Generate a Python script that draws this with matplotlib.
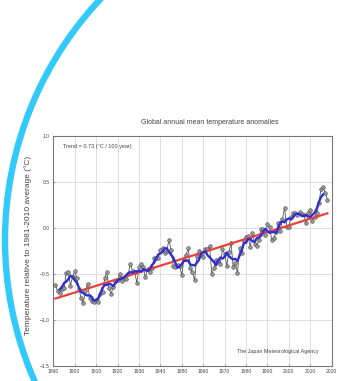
import matplotlib
matplotlib.use("Agg")
import matplotlib.pyplot as plt
from matplotlib.patches import Circle

plt.rcParams['font.family'] = ['Liberation Sans', 'DejaVu Sans']

# ---- data ----
years = list(range(1891, 2019))
anomalies = [
    -0.62, -0.69, -0.71, -0.67, -0.66, -0.49, -0.48, -0.63, -0.53, -0.47,  # 1891-1900
    -0.55, -0.67, -0.76, -0.82, -0.69, -0.61, -0.76, -0.80, -0.81, -0.79,  # 1901-1910
    -0.81, -0.72, -0.70, -0.55, -0.48, -0.66, -0.72, -0.64, -0.58, -0.57,  # 1911-1920
    -0.50, -0.58, -0.55, -0.56, -0.50, -0.39, -0.47, -0.48, -0.60, -0.43,  # 1921-1930
    -0.39, -0.43, -0.54, -0.45, -0.48, -0.44, -0.33, -0.33, -0.33, -0.24,  # 1931-1940
    -0.22, -0.27, -0.25, -0.13, -0.24, -0.41, -0.43, -0.40, -0.42, -0.51,  # 1941-1950
    -0.34, -0.29, -0.22, -0.44, -0.48, -0.57, -0.31, -0.25, -0.29, -0.32,  # 1951-1960
    -0.23, -0.23, -0.20, -0.50, -0.44, -0.35, -0.36, -0.39, -0.23, -0.28,  # 1961-1970
    -0.41, -0.26, -0.16, -0.43, -0.38, -0.49, -0.22, -0.27, -0.14, -0.10,  # 1971-1980
    -0.09, -0.21, -0.05, -0.17, -0.20, -0.13, -0.01, -0.01, -0.08, 0.04,   # 1981-1990
    0.01, -0.13, -0.11, -0.04, 0.05, -0.03, 0.10, 0.22, 0.01, 0.01,        # 1991-2000
    0.12, 0.16, 0.16, 0.14, 0.17, 0.15, 0.14, 0.05, 0.16, 0.20,            # 2001-2010
    0.08, 0.12, 0.16, 0.27, 0.42, 0.45, 0.38, 0.31,                        # 2011-2018
]

smooth_years = list(range(1893, 2017))
smooth_vals = [
    -0.670, -0.644, -0.602, -0.586, -0.558, -0.520, -0.532, -0.570,  # 1893-1900
    -0.596, -0.654, -0.698, -0.710, -0.728, -0.736, -0.734, -0.754, -0.794, -0.786,  # 1901-1910
    -0.766, -0.714, -0.652, -0.622, -0.622, -0.610, -0.616, -0.634, -0.602, -0.574,  # 1911-1920
    -0.556, -0.552, -0.538, -0.516, -0.494, -0.480, -0.488, -0.474, -0.474, -0.466,  # 1921-1930
    -0.478, -0.448, -0.458, -0.468, -0.448, -0.406, -0.382, -0.334, -0.290, -0.278,  # 1931-1940
    -0.262, -0.222, -0.222, -0.260, -0.292, -0.322, -0.380, -0.434, -0.420, -0.392,  # 1941-1950
    -0.356, -0.360, -0.354, -0.400, -0.404, -0.410, -0.380, -0.348, -0.280, -0.264,  # 1951-1960
    -0.254, -0.296, -0.320, -0.344, -0.370, -0.408, -0.354, -0.322, -0.334, -0.314,  # 1961-1970
    -0.268, -0.308, -0.328, -0.344, -0.336, -0.358, -0.300, -0.244, -0.164, -0.162,  # 1971-1980
    -0.118, -0.124, -0.144, -0.152, -0.112, -0.104, -0.086, -0.038, -0.010, -0.034,  # 1981-1990
    -0.054, -0.046, -0.044, -0.052, -0.006, 0.060, 0.070, 0.062, 0.092, 0.104,      # 1991-2000
    0.092, 0.118, 0.150, 0.156, 0.152, 0.130, 0.134, 0.140, 0.126, 0.122,           # 2001-2010
    0.144, 0.166, 0.210, 0.284, 0.336, 0.366,                                        # 2011-2016
]

trend_years = [1891, 2018]
trend_vals = [-0.77, 0.16]

x_ticks = list(range(1890, 2021, 10))
y_ticks = [-1.5, -1.0, -0.5, 0.0, 0.5, 1.0]
y_tick_labels = ['\u22121.5', '\u22121.0', '\u22120.5', '0.0', '0.5', '1.0']

title = "Global annual mean temperature anomalies"
ylabel = "Temperature relative to 1981-2010 average (\u00b0C)"
trend_text = "Trend = 0.73 (\u00b0C / 100 year)"
credit = "The Japan Meteorological Agency"

# ---- figure ----
W, H = 337, 381
fig = plt.figure(figsize=(W / 100, H / 100), dpi=100)
fig.patch.set_facecolor('white')

# decorative cyan arc (figure pixel space)
bg = fig.add_axes([0, 0, 1, 1], zorder=3)
bg.set_xlim(0, W)
bg.set_ylim(H, 0)
bg.axis('off')
bg.patch.set_alpha(0)
bg.add_patch(Circle((357, 240), 352, fill=False, edgecolor='#33c9fb', linewidth=4.6))

# main chart axes
L, R, T, B = 53.3, 331.7, 136.3, 365.5
ax = fig.add_axes([L / W, 1 - B / H, (R - L) / W, (B - T) / H], zorder=2)
ax.set_xlim(1890, 2020)
ax.set_ylim(-1.5, 1.0)
ax.set_xticks(x_ticks)
ax.set_yticks(y_ticks)
ax.set_xticklabels([str(t) for t in x_ticks])
ax.set_yticklabels(y_tick_labels)
ax.grid(True, color='#d8d8d8', linewidth=0.6)
ax.set_axisbelow(True)
for s in ax.spines.values():
    s.set_color('#777777')
    s.set_linewidth(0.8)
ax.tick_params(axis='both', length=1.5, width=0.5, color='#777777',
               labelsize=3.6, labelcolor='#444444', pad=2.5, direction='in')

ax.plot(years, anomalies, color='#555555', linewidth=0.6,
        marker='o', markersize=2.6, markerfacecolor='#9a9a9a',
        markeredgecolor='#444444', markeredgewidth=0.4, zorder=3)
ax.plot(trend_years, trend_vals, color='#e8403c', linewidth=1.6, zorder=4)
ax.plot(smooth_years, smooth_vals, color='#2f2fd0', linewidth=1.7, zorder=5)

ax.text(0.035, 0.955, trend_text, transform=ax.transAxes, fontsize=4.0,
        color='#444444', ha='left', va='center')
ax.text(0.805, 0.063, credit, transform=ax.transAxes, fontsize=3.9,
        color='#444444', ha='center', va='center')

fig.text(210 / W, 1 - 122 / H, title, fontsize=5.0, color='#444444',
         ha='center', va='center')
fig.text(28 / W, 1 - 245 / H, ylabel, fontsize=6.0, color='#444444',
         ha='center', va='center', rotation=90)

fig.savefig('out.png', dpi=100, facecolor='white')
